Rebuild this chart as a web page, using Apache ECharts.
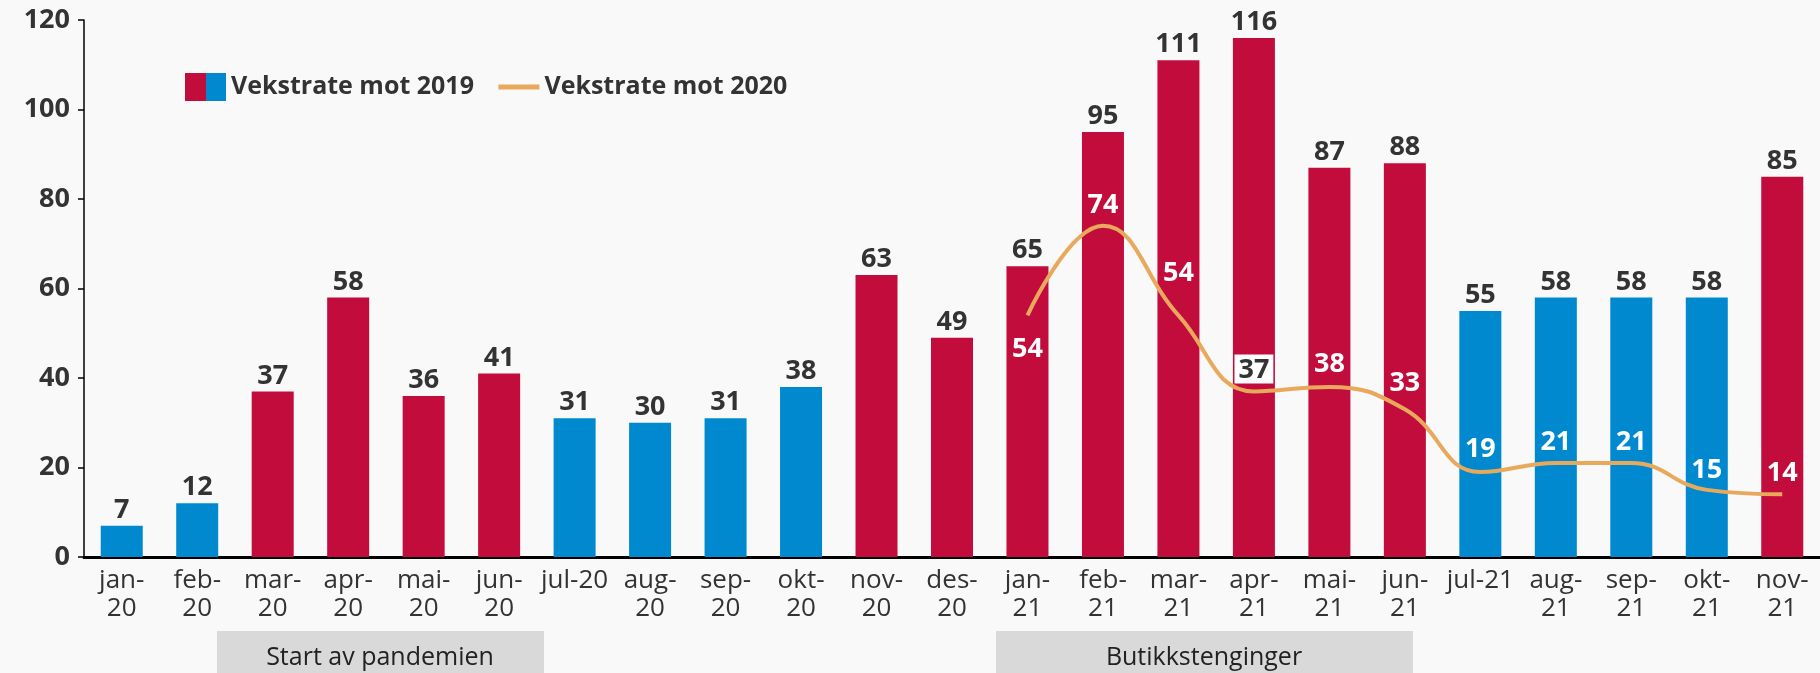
<!DOCTYPE html>
<html>
<head>
<meta charset="utf-8">
<script src="https://cdn.jsdelivr.net/npm/echarts@6/dist/echarts.min.js"></script>
<style>
  html, body { margin: 0; padding: 0; background: #f9f9f9; }
  #chart { width: 1820px; height: 673px; }
</style>
</head>
<body>
<div id="chart"></div>
<script>
// kategorier (måneder)
const months = ['jan-\n20', 'feb-\n20', 'mar-\n20', 'apr-\n20', 'mai-\n20', 'jun-\n20', 'jul-20', 'aug-\n20',
  'sep-\n20', 'okt-\n20', 'nov-\n20', 'des-\n20', 'jan-\n21', 'feb-\n21', 'mar-\n21', 'apr-\n21', 'mai-\n21',
  'jun-\n21', 'jul-21', 'aug-\n21', 'sep-\n21', 'okt-\n21', 'nov-\n21'];
// vekstrate mot 2019 (søyler)
const growthVs2019 = [7, 12, 37, 58, 36, 41, 31, 30, 31, 38, 63, 49, 65, 95, 111, 116, 87, 88, 55, 58, 58, 58, 85];
// 1 = rød søyle, 0 = blå søyle
const redBar = [0, 0, 1, 1, 1, 1, 0, 0, 0, 0, 1, 1, 1, 1, 1, 1, 1, 1, 0, 0, 0, 0, 1];
// vekstrate mot 2020 (linje)
const growthVs2020 = [null, null, null, null, null, null, null, null, null, null, null, null,
  54, 74, 54, 37, 38, 33, 19, 21, 21, 15, 14];
const yTicks = [0, 20, 40, 60, 80, 100, 120];

const RED = '#c20c3c';
const BLUE = '#0089cf';
const ORANGE = '#e8a95c';
const TEXT = '#333333';
const FONT = '"Open Sans", "Noto Sans", sans-serif';

// plassering av linjeetiketter (avstand fra punktet, negativ = under)
const lineLabelDist = { 12: -20, 13: 7, 14: 28, 15: 8, 16: 9, 17: 12, 18: 9, 19: 7, 20: 7, 21: 6, 22: 7 };

const chart = echarts.init(document.getElementById('chart'));

const barData = growthVs2019.map((v, i) => ({
  value: v,
  itemStyle: { color: redBar[i] ? RED : BLUE }
}));

const lineData = growthVs2020.map((v, i) => {
  if (v === null) return '-';
  const d = lineLabelDist[i];
  const item = { value: v, label: { position: d < 0 ? 'bottom' : 'top', distance: Math.abs(d) } };
  if (i === 15) {
    item.label.color = TEXT;
    item.label.backgroundColor = '#ffffff';
    item.label.padding = [2, 4, 0, 4];
  }
  return item;
});

const option = {
  backgroundColor: '#f9f9f9',
  animation: false,
  textStyle: { fontFamily: FONT },
  grid: { left: 84, right: -11, top: 20, bottom: 116, containLabel: false },
  legend: {
    left: 180,
    top: 68,
    itemWidth: 41,
    itemHeight: 28,
    itemGap: 22,
    textStyle: { fontFamily: FONT, fontSize: 25, fontWeight: 'bold', color: TEXT },
    data: [
      {
        name: 'Vekstrate mot 2019',
        icon: 'rect',
        itemStyle: {
          color: new echarts.graphic.LinearGradient(0, 0, 1, 0, [
            { offset: 0, color: RED }, { offset: 0.5, color: RED },
            { offset: 0.5, color: BLUE }, { offset: 1, color: BLUE }
          ])
        }
      },
      { name: 'Vekstrate mot 2020', itemStyle: { opacity: 0 }, lineStyle: { width: 5 } }
    ]
  },
  xAxis: {
    type: 'category',
    data: months,
    axisLine: { lineStyle: { color: '#000', width: 3 } },
    axisTick: { show: false },
    axisLabel: {
      interval: 0,
      margin: 10,
      fontFamily: FONT,
      fontSize: 26,
      lineHeight: 28,
      color: TEXT
    }
  },
  yAxis: {
    type: 'value',
    min: yTicks[0],
    max: yTicks[yTicks.length - 1],
    interval: yTicks[1] - yTicks[0],
    splitLine: { show: false },
    axisLine: { show: true, lineStyle: { color: '#000', width: 1.5 } },
    axisTick: { show: true, length: 6, lineStyle: { color: '#000', width: 1.5 } },
    axisLabel: { margin: 14, fontFamily: FONT, fontSize: 27, fontWeight: 'bold', color: TEXT }
  },
  series: [
    {
      name: 'Vekstrate mot 2019',
      type: 'bar',
      data: barData,
      barWidth: 42,
      label: {
        show: true,
        position: 'top',
        distance: 2,
        fontFamily: FONT,
        fontSize: 27,
        fontWeight: 'bold',
        color: TEXT
      }
    },
    {
      name: 'Vekstrate mot 2020',
      type: 'line',
      data: lineData,
      smooth: 0.45,
      symbol: 'circle',
      symbolSize: 0.1,
      showSymbol: true,
      color: ORANGE,
      itemStyle: { color: ORANGE },
      lineStyle: { color: ORANGE, width: 4 },
      z: 5,
      label: {
        show: true,
        opacity: 1,
        fontFamily: FONT,
        fontSize: 27,
        fontWeight: 'bold',
        color: '#ffffff'
      }
    }
  ],
  graphic: [
    {
      type: 'group',
      left: 217,
      top: 631,
      children: [
        { type: 'rect', shape: { x: 0, y: 0, width: 327, height: 42 }, style: { fill: '#d9d9d9' } },
        { type: 'text', x: 163, y: 27, style: { text: 'Start av pandemien', fill: '#222', font: '25px ' + FONT, align: 'center', verticalAlign: 'middle' } }
      ]
    },
    {
      type: 'group',
      left: 996,
      top: 631,
      children: [
        { type: 'rect', shape: { x: 0, y: 0, width: 417, height: 42 }, style: { fill: '#d9d9d9' } },
        { type: 'text', x: 208, y: 27, style: { text: 'Butikkstenginger', fill: '#222', font: '25px ' + FONT, align: 'center', verticalAlign: 'middle' } }
      ]
    }
  ]
};

chart.setOption(option);
</script>
</body>
</html>
